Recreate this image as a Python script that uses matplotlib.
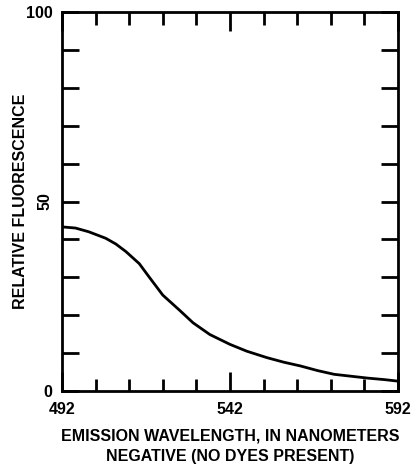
import numpy as np
import matplotlib
matplotlib.use("Agg")
import matplotlib.pyplot as plt

# emission spectrum
wavelength = [492, 496, 500, 505, 508, 511, 515, 518, 522, 527, 531, 536, 542, 547, 553, 558,
              563, 568, 573, 578, 583, 588, 592]
fluorescence = [43.3, 43.0, 42.0, 40.3, 38.8, 36.8, 33.6, 30.0, 25.3, 21.3, 18.0, 14.9, 12.3,
                10.5, 8.8, 7.6, 6.6, 5.4, 4.4, 3.9, 3.4, 3.0, 2.6]

x_ticks = [492, 542, 592]
x_ticklabels = ["492", "542", "592"]
y_ticks = [0, 50, 100]
y_ticklabels = ["0", "50", "100"]

plt.rcParams["font.family"] = ["Liberation Sans", "DejaVu Sans"]
plt.rcParams["font.weight"] = "bold"

fig = plt.figure(figsize=(4.14, 4.74), dpi=100)
ax = fig.add_axes([62 / 414, 1 - 391 / 474, 336 / 414, 379 / 474])

ax.plot(wavelength, fluorescence, color="black", linewidth=2)

ax.set_xlim(492, 592)
ax.set_ylim(0, 100)

ax.set_xticks(x_ticks, x_ticklabels)
ax.set_xticks(np.arange(502, 592, 10), minor=True)
ax.set_yticks(y_ticks, y_ticklabels)
ax.set_yticks(np.arange(10, 100, 10), minor=True)

ax.tick_params(which="both", direction="in", top=True, right=True,
               width=2, color="black", labelsize=11.5)
ax.tick_params(which="major", length=14)
ax.tick_params(which="minor", length=9)
ax.tick_params(axis="x", which="major", pad=8)
ax.tick_params(axis="y", which="both", length=12)
ax.tick_params(axis="y", which="major", pad=7)

# the 50 label sits sideways in the original
ax.get_yticklabels()[1].set_rotation(90)
ax.get_yticklabels()[1].set_va("center")

for s in ax.spines.values():
    s.set_linewidth(2)

ax.set_ylabel("RELATIVE FLUORESCENCE", fontsize=11.5, fontweight="bold", labelpad=-2)
ax.set_xlabel("EMISSION WAVELENGTH, IN NANOMETERS\nNEGATIVE (NO DYES PRESENT)",
              fontsize=11.5, fontweight="bold", linespacing=1.5, labelpad=8)

fig.savefig("out.png", dpi=100)
